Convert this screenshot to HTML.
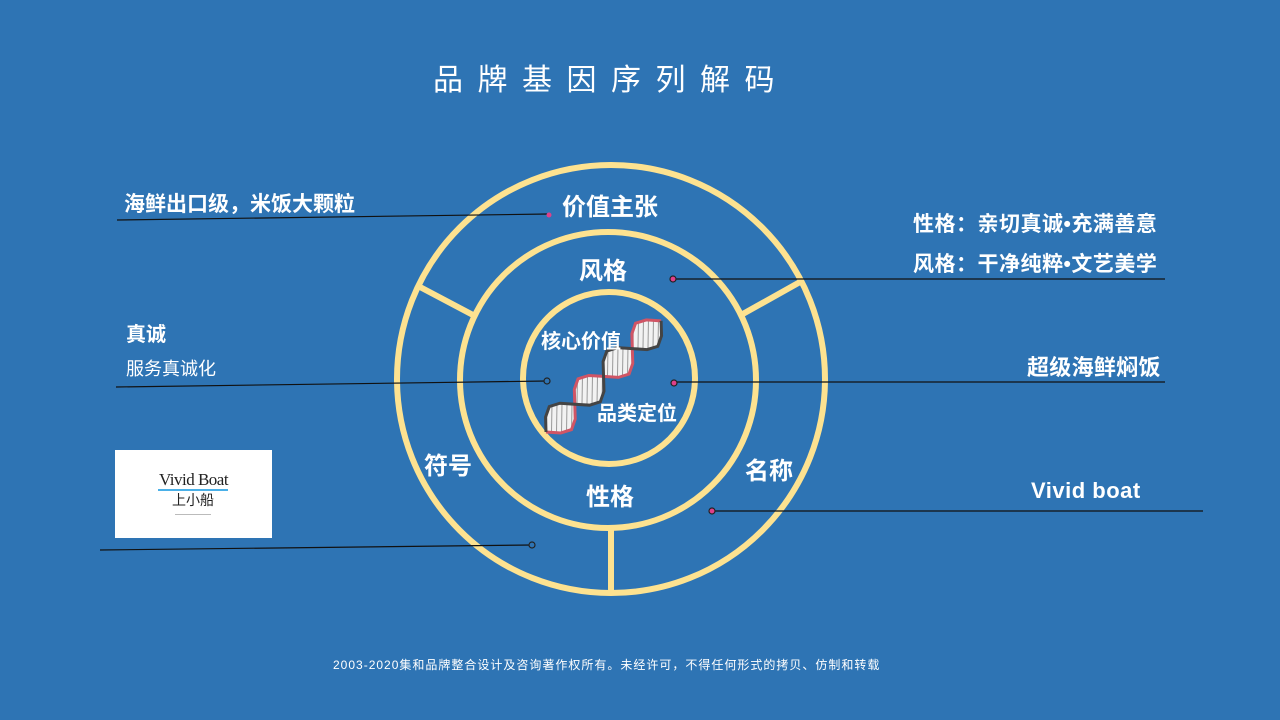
<!DOCTYPE html>
<html><head><meta charset="utf-8"><style>
html,body{margin:0;padding:0}
body{width:1280px;height:720px;background:#2e74b4;overflow:hidden;position:relative;font-family:"Liberation Sans","Noto Sans CJK SC",sans-serif;color:#fff}
.t{position:absolute;white-space:nowrap;font-weight:bold}
</style></head><body>
<svg width="1280" height="720" style="position:absolute;left:0;top:0">
<defs>
<pattern id="hatch" width="5" height="5" patternUnits="userSpaceOnUse" patternTransform="rotate(45)"><rect width="5" height="5" fill="#f2f2f2"/><line x1="0" y1="0" x2="0" y2="5" stroke="#999" stroke-width="2"/></pattern>
</defs>
<g fill="none" stroke="#fde290" stroke-width="6">
<circle cx="611" cy="379" r="214"/>
<circle cx="608" cy="380" r="148"/>
<circle cx="609" cy="378" r="86"/>
<line x1="420" y1="287" x2="473" y2="315"/>
<line x1="800" y1="282" x2="741" y2="315"/>
<line x1="611" y1="528" x2="611" y2="594"/>
</g>
<g transform="translate(546,432) rotate(-44)">
<polygon points="0,0 10,11 20,16 30,11 40,0 50,-11 60,-16 70,-11 80,0 90,11 100,16 110,11 120,0 130,-11 140,-16 150,-11 160,0 150,11 140,16 130,11 120,0 110,-11 100,-16 90,-11 80,0 70,11 60,16 50,11 40,0 30,-11 20,-16 10,-11" fill="url(#hatch)"/>
<polyline points="0,0 10,11 20,16 30,11 40,0 50,-11 60,-16 70,-11 80,0 90,11 100,16 110,11 120,0 130,-11 140,-16 150,-11 160,0" fill="none" stroke="#d05565" stroke-width="3"/>
<polyline points="0,0 10,-11 20,-16 30,-11 40,0 50,11 60,16 70,11 80,0 90,-11 100,-16 110,-11 120,0 130,11 140,16 150,11 160,0" fill="none" stroke="#444" stroke-width="3"/>
</g>
<g stroke="#111" stroke-width="1.2">
<line x1="117" y1="220" x2="548" y2="214"/>
<line x1="673" y1="279" x2="1165" y2="279"/>
<line x1="116" y1="387" x2="547" y2="381"/>
<line x1="674" y1="382" x2="1165" y2="382"/>
<line x1="712" y1="511" x2="1203" y2="511"/>
<line x1="100" y1="550" x2="532" y2="545"/>
</g>
<g stroke="#222" stroke-width="1.2">
<circle cx="549" cy="215" r="2.5" fill="#e0408a" stroke="none"/>
<circle cx="673" cy="279" r="3" fill="#e0408a"/>
<circle cx="547" cy="381" r="3" fill="#2e74b4"/>
<circle cx="674" cy="383" r="3" fill="#e0408a"/>
<circle cx="712" cy="511" r="3" fill="#e0408a"/>
<circle cx="532" cy="545" r="3" fill="#2e74b4"/>
</g>
</svg>
<div class="t" style="left:433px;top:55px;font-size:30px;font-weight:normal;letter-spacing:14.5px">品牌基因序列解码</div>
<div class="t" style="left:562px;top:187px;font-size:24px">价值主张</div>
<div class="t" style="left:579px;top:251px;font-size:24px">风格</div>
<div class="t" style="left:541px;top:325px;font-size:20px">核心价值</div>
<div class="t" style="left:597px;top:397px;font-size:20px">品类定位</div>
<div class="t" style="left:424px;top:446px;font-size:24px">符号</div>
<div class="t" style="left:586px;top:477px;font-size:24px">性格</div>
<div class="t" style="left:745px;top:451px;font-size:24px">名称</div>
<div class="t" style="left:124px;top:188px;font-size:21px">海鲜出口级，米饭大颗粒</div>
<div class="t" style="left:126px;top:318px;font-size:20px">真诚</div>
<div class="t" style="left:126px;top:355px;font-size:18px;font-weight:normal">服务真诚化</div>
<div class="t" style="left:913px;top:208px;font-size:21px;letter-spacing:0.5px">性格：亲切真诚•充满善意</div>
<div class="t" style="left:913px;top:248px;font-size:21px;letter-spacing:0.5px">风格：干净纯粹•文艺美学</div>
<div class="t" style="left:1027px;top:350px;font-size:22px;letter-spacing:0.3px">超级海鲜焖饭</div>
<div class="t" style="left:1031px;top:478px;font-size:22px;letter-spacing:0.5px">Vivid boat</div>
<div style="position:absolute;left:115px;top:450px;width:157px;height:88px;background:#fff">
<div style="position:absolute;left:44px;top:20px;font-family:'Liberation Serif',serif;font-size:17px;line-height:20px;color:#222;letter-spacing:-0.5px">Vivid Boat</div>
<div style="position:absolute;left:43px;top:39px;width:70px;height:2px;background:#4ab0e8"></div>
<div style="position:absolute;left:57px;top:41px;font-size:14px;color:#222;font-family:'Noto Sans CJK SC',sans-serif;line-height:18px">上小船</div>
<div style="position:absolute;left:60px;top:64px;width:36px;height:1px;background:#bbb"></div>
</div>
<div class="t" style="left:333px;top:656px;font-size:12px;font-weight:normal;letter-spacing:1px">2003-2020集和品牌整合设计及咨询著作权所有。未经许可，不得任何形式的拷贝、仿制和转载</div>
</body></html>
